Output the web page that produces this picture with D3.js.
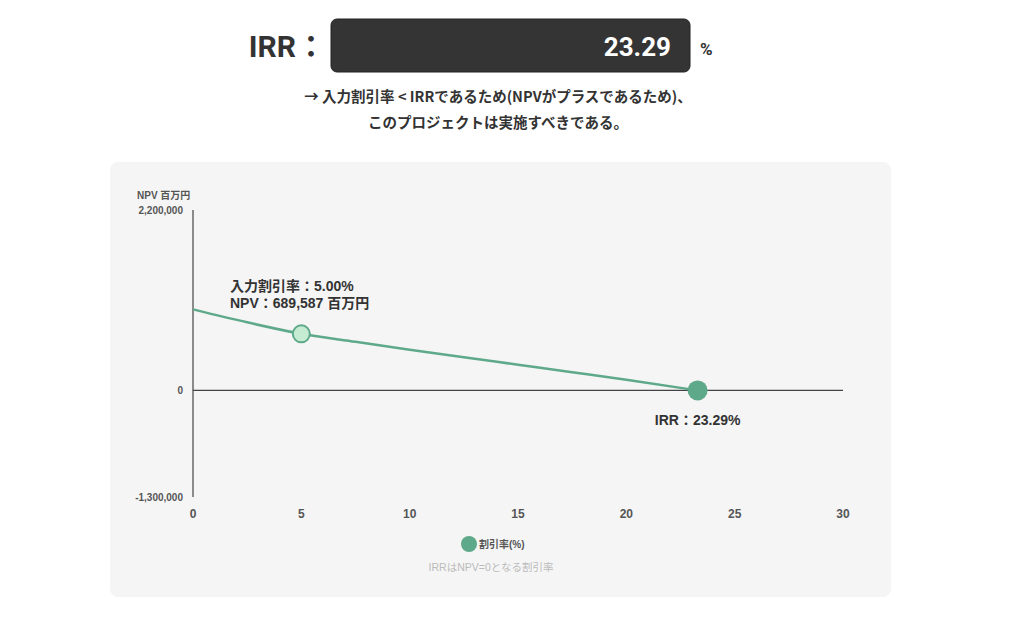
<!DOCTYPE html>
<html><head><meta charset="utf-8">
<script src="https://cdn.jsdelivr.net/npm/d3@7"></script>
<style>
html,body{margin:0;padding:0;background:#fff;}
svg{display:block;}
</style></head>
<body>
<svg id="chart" width="1024" height="620"></svg>
<script>
const rates = [0, 2.5, 5, 7.5, 10, 12.5, 15, 17.5, 20, 23.29];
const npvValues = [988000, 830000, 689587, 592000, 497000, 404000, 313000, 222000, 130000, 0];
const xTicks = [0, 5, 10, 15, 20, 25, 30];
const yTicks = [-1300000, 0, 2200000];
const inputRate = 5.00;
const inputNpv = 689587;
const irr = 23.29;
const headerLines = ["→ 入力割引率 < IRRであるため(NPVがプラスであるため)、", "このプロジェクトは実施すべきである。"];

const svg = d3.select("#chart");
const latin = "Roboto, 'Noto Sans CJK JP', sans-serif";
const chartFont = "'Liberation Sans', Arial, 'Noto Sans CJK JP', sans-serif";
const green = "#5ea98a";

// Header
svg.append("text").attr("x", 326).attr("y", 57).attr("text-anchor", "end")
  .attr("font-family", latin).attr("font-weight", 700).attr("font-size", 30).attr("fill", "#333").text("IRR：");
svg.append("rect").attr("x", 331).attr("y", 19).attr("width", 359).attr("height", 53).attr("rx", 6)
  .attr("fill", "#343434").attr("stroke", "#222").attr("stroke-width", 1);
svg.append("text").attr("x", 671).attr("y", 56).attr("text-anchor", "end")
  .attr("font-family", latin).attr("font-weight", 700).attr("font-size", 26).attr("fill", "#fff").text(irr.toFixed(2));
svg.append("text").attr("x", 700).attr("y", 55)
  .attr("font-family", latin).attr("font-weight", 700).attr("font-size", 17).attr("fill", "#333").text("%");
headerLines.forEach((t, i) => {
  svg.append("text").attr("x", 498).attr("y", 102 + i * 26).attr("text-anchor", "middle")
    .attr("font-family", "'Noto Sans CJK JP', sans-serif").attr("font-weight", 700).attr("font-size", 14.5).attr("fill", "#333").text(t);
});

// Panel
svg.append("rect").attr("x", 110).attr("y", 162).attr("width", 781).attr("height", 435).attr("rx", 8).attr("fill", "#f5f5f5");

const x = d3.scaleLinear().domain([0, 30]).range([193, 843]);
const y = d3.scaleLinear().domain([-1300000, 2200000]).range([497, 210]);

// Y axis line
svg.append("line").attr("x1", x(0)).attr("x2", x(0)).attr("y1", y(2200000)).attr("y2", y(-1300000))
  .attr("stroke", "#444").attr("stroke-width", 1.2);
// zero line
svg.append("line").attr("x1", x(0)).attr("x2", x(30)).attr("y1", y(0)).attr("y2", y(0))
  .attr("stroke", "#444").attr("stroke-width", 1.2);

const fmt = d3.format(",");
svg.append("g").selectAll("text").data(yTicks).join("text")
  .attr("x", 183).attr("y", d => y(d) + 4).attr("text-anchor", "end")
  .attr("font-family", chartFont).attr("font-weight", 700).attr("font-size", 10).attr("fill", "#555")
  .text(d => d < 0 ? "-" + fmt(-d) : fmt(d));
svg.append("text").attr("x", 137).attr("y", 199)
  .attr("font-family", chartFont).attr("font-weight", 700).attr("font-size", 10).attr("fill", "#555").text("NPV 百万円");

svg.append("g").selectAll("text").data(xTicks).join("text")
  .attr("x", d => x(d)).attr("y", 518).attr("text-anchor", "middle")
  .attr("font-family", chartFont).attr("font-weight", 700).attr("font-size", 12).attr("fill", "#555")
  .text(d => d);

// Line
const pts = rates.map((r, i) => [r, npvValues[i]]);
svg.append("path").datum(pts)
  .attr("d", d3.line().x(d => x(d[0])).y(d => y(d[1])).curve(d3.curveMonotoneX))
  .attr("fill", "none").attr("stroke", green).attr("stroke-width", 2.5);

// Points
svg.append("circle").attr("cx", x(inputRate)).attr("cy", y(inputNpv)).attr("r", 8.5)
  .attr("fill", "#c6ebd3").attr("stroke", green).attr("stroke-width", 2);
svg.append("circle").attr("cx", x(irr)).attr("cy", y(0)).attr("r", 10).attr("fill", green);

// Annotations
svg.append("text").attr("x", 230).attr("y", 291)
  .attr("font-family", chartFont).attr("font-weight", 700).attr("font-size", 14).attr("fill", "#333")
  .text("入力割引率：" + inputRate.toFixed(2) + "%");
svg.append("text").attr("x", 230).attr("y", 308)
  .attr("font-family", chartFont).attr("font-weight", 700).attr("font-size", 14).attr("fill", "#333")
  .text("NPV：" + fmt(inputNpv) + " 百万円");
svg.append("text").attr("x", x(irr)).attr("y", 425).attr("text-anchor", "middle")
  .attr("font-family", chartFont).attr("font-weight", 700).attr("font-size", 14).attr("fill", "#333")
  .text("IRR：" + irr.toFixed(2) + "%");

// Legend
svg.append("circle").attr("cx", 469).attr("cy", 544).attr("r", 8).attr("fill", green);
svg.append("text").attr("x", 479).attr("y", 548)
  .attr("font-family", chartFont).attr("font-weight", 700).attr("font-size", 10).attr("fill", "#555").text("割引率(%)");
svg.append("text").attr("x", 491).attr("y", 571).attr("text-anchor", "middle")
  .attr("font-family", chartFont).attr("font-size", 10.5).attr("fill", "#bbb").text("IRRはNPV=0となる割引率");
</script>
</body></html>
